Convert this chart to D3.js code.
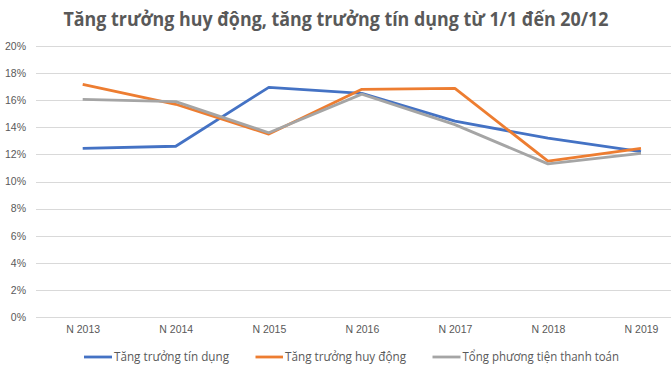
<!DOCTYPE html>
<html>
<head>
<meta charset="utf-8">
<script src="https://cdnjs.cloudflare.com/ajax/libs/d3/7.8.5/d3.min.js"></script>
<style>
  body { margin: 0; background: #fff; }
  svg text { font-family: "Liberation Sans Narrow", "Open Sans", "Liberation Sans", sans-serif; }
</style>
</head>
<body>
<div id="chart"></div>
<script>
// chart data
var years = ["N 2013", "N 2014", "N 2015", "N 2016", "N 2017", "N 2018", "N 2019"];
var tinDung = [12.45, 12.6, 16.95, 16.5, 14.45, 13.2, 12.2];
var huyDong = [17.17, 15.7, 13.5, 16.8, 16.88, 11.5, 12.45];
var tongPTTT = [16.06, 15.9, 13.6, 16.45, 14.2, 11.3, 12.08];
var seriesNames = ["Tăng trưởng tín dụng", "Tăng trưởng huy động", "Tổng phương tiện thanh toán"];
var yTicks = [0, 2, 4, 6, 8, 10, 12, 14, 16, 18, 20];

var width = 671, height = 377;
var colors = ["#4472C4", "#ED7D31", "#A5A5A5"];

var svg = d3.select("#chart").append("svg")
  .attr("width", width)
  .attr("height", height);

// plot area runs past the right edge (it is cut off in the original too)
var x = d3.scalePoint().domain(years).range([82.7, 641]);
var y = d3.scaleLinear().domain([0, 20]).range([317, 46]);

// gridlines
svg.append("g")
  .selectAll("line")
  .data(yTicks)
  .enter()
  .append("line")
  .attr("x1", 36)
  .attr("x2", width)
  .attr("y1", function(d) { return Math.round(y(d)) + 0.5; })
  .attr("y2", function(d) { return Math.round(y(d)) + 0.5; })
  .attr("stroke", "#d9d9d9")
  .attr("stroke-width", 1);

// y axis labels
var yAxis = d3.axisLeft(y).tickValues(yTicks).tickSize(0).tickPadding(0)
  .tickFormat(function(d) { return d + "%"; });
var gy = svg.append("g").attr("transform", "translate(26,0)").call(yAxis);
gy.select(".domain").remove();
gy.selectAll("text").attr("fill", "#595959").attr("font-size", "10.5px")
  .style("font-family", "'Liberation Sans', sans-serif");

// x axis labels
var xAxis = d3.axisBottom(x).tickSize(0).tickPadding(0);
var gx = svg.append("g").attr("transform", "translate(0,326)").call(xAxis);
gx.select(".domain").remove();
gx.selectAll("text").attr("fill", "#595959").attr("font-size", "10.5px")
  .style("font-family", "'Liberation Sans', sans-serif");

// lines
var line = d3.line()
  .x(function(d, i) { return x(years[i]); })
  .y(function(d) { return y(d); });

[tinDung, huyDong, tongPTTT].forEach(function(s, i) {
  svg.append("path")
    .datum(s)
    .attr("d", line)
    .attr("fill", "none")
    .attr("stroke", colors[i])
    .attr("stroke-width", 2.8)
    .attr("stroke-linejoin", "round");
});

// title
svg.append("text")
  .attr("x", 63.5)
  .attr("y", 25.5)
  .attr("textLength", 545)
  .attr("lengthAdjust", "spacingAndGlyphs")
  .attr("font-size", "19.5px")
  .attr("font-weight", "bold")
  .attr("fill", "#595959")
  .text("Tăng trưởng huy động, tăng trưởng tín dụng từ 1/1 đến 20/12");

// legend
var legendPos = [
  {x1: 84, x2: 112, tx: 114, tw: 115},
  {x1: 255.5, x2: 283, tx: 285, tw: 121},
  {x1: 432.5, x2: 460.5, tx: 462.5, tw: 156.5}
];
var lg = svg.append("g").selectAll("g")
  .data(seriesNames)
  .enter()
  .append("g");
lg.append("line")
  .attr("x1", function(d, i) { return legendPos[i].x1; })
  .attr("x2", function(d, i) { return legendPos[i].x2; })
  .attr("y1", 357)
  .attr("y2", 357)
  .attr("stroke", function(d, i) { return colors[i]; })
  .attr("stroke-width", 2.8);
lg.append("text")
  .attr("x", function(d, i) { return legendPos[i].tx; })
  .attr("y", 361)
  .attr("textLength", function(d, i) { return legendPos[i].tw; })
  .attr("lengthAdjust", "spacingAndGlyphs")
  .attr("font-size", "12px")
  .attr("fill", "#595959")
  .text(function(d) { return d; });
</script>
</body>
</html>
